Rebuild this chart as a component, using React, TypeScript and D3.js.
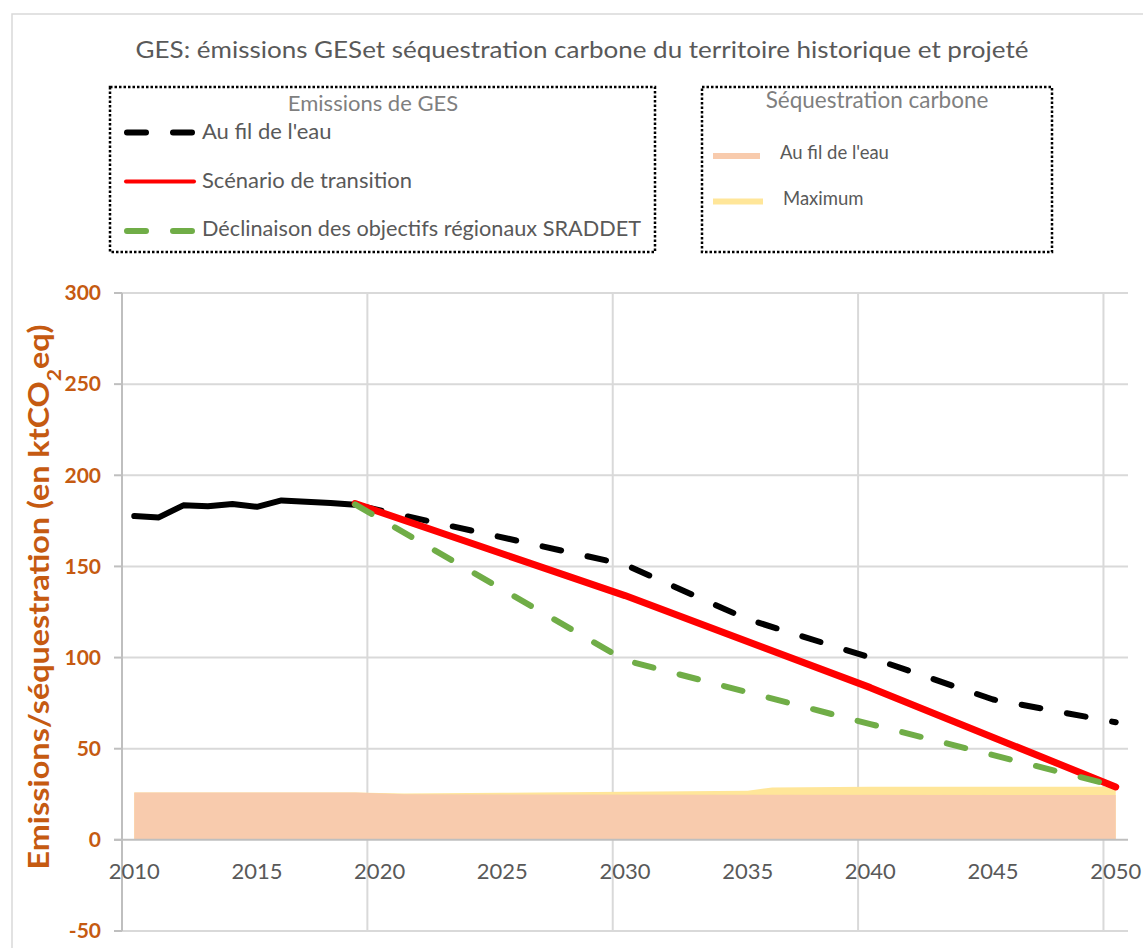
import React from 'react';
import * as d3 from 'd3';

// GES emissions (ktCO2eq)
const histYears = [2010, 2011, 2012, 2013, 2014, 2015, 2016, 2017, 2018, 2019];
const histValues = [177.6, 176.9, 183.5, 183, 184.2, 182.7, 186.2, 185.5, 184.8, 183.8];

const bauYears = [2019, 2030, 2035, 2040, 2045, 2050];
const bauValues = [183.8, 151, 121, 100, 77, 64.5];

const transYears = [2019, 2030, 2040, 2050];
const transValues = [184.5, 134, 83.5, 29];

const sraddetYears = [2019, 2030, 2040, 2050];
const sraddetValues = [184, 98.5, 63.5, 29.5];

// sequestration carbone
const seqBauYears = [2010, 2019, 2021, 2050];
const seqBauValues = [26, 26, 25, 24.6];

const seqMaxYears = [2010, 2019, 2021, 2025, 2030, 2035, 2036, 2040, 2050];
const seqMaxValues = [26, 26, 25.4, 25.8, 26.4, 27, 28.7, 29.2, 29.2];

const xTicks = [2010, 2015, 2020, 2025, 2030, 2035, 2040, 2045, 2050];
const xGrid = [2019.5, 2029.5, 2039.5, 2049.5];
const yTicks = [-50, 0, 50, 100, 150, 200, 250, 300];

const font = 'Lato, "Open Sans", sans-serif';

const zip = (xs: number[], ys: number[]) => xs.map((x, i) => [x, ys[i]] as [number, number]);

export default function App() {
  // plot area
  const x = d3.scaleLinear().domain([2009.5, 2050.5]).range([122, 1128]);
  const y = d3.scaleLinear().domain([-50, 300]).range([931, 293]);

  const line = d3.line<[number, number]>()
    .x(d => x(d[0]))
    .y(d => y(d[1]));

  const area = d3.area<[number, number]>()
    .x(d => x(d[0]))
    .y0(y(0))
    .y1(d => y(d[1]));

  const dash = '19 27';

  return (
    <svg width={1143} height={948} style={{ position: 'absolute', left: 0, top: 0, background: '#fff' }}>
      <rect x={12} y={14} width={1140} height={940} fill="#fff" stroke="#d9d9d9" strokeWidth={1.5} />

      {/* title */}
      <text x={582} y={58} textAnchor="middle" fontFamily={font} fontSize={24} fill="#595959"
        textLength={893} lengthAdjust="spacingAndGlyphs">
        GES: émissions GESet séquestration carbone du territoire historique et projeté
      </text>

      {/* legend: emissions */}
      <rect x={110} y={87} width={545} height={165} fill="none" stroke="#000" strokeWidth={2.5} strokeDasharray="2.5 2" />
      <text x={373} y={111} textAnchor="middle" fontFamily={font} fontSize={22} fill="#7f7f7f">Emissions de GES</text>
      <line x1={127} x2={193} y1={132.5} y2={132.5} stroke="#000" strokeWidth={6} strokeLinecap="round" strokeDasharray={dash} />
      <text x={202} y={139} fontFamily={font} fontSize={22} fill="#595959">Au fil de l'eau</text>
      <line x1={126} x2={194} y1={181.5} y2={181.5} stroke="#ff0000" strokeWidth={4} strokeLinecap="round" />
      <text x={202} y={188} fontFamily={font} fontSize={22} fill="#595959">Scénario de transition</text>
      <line x1={127} x2={193} y1={231} y2={231} stroke="#70ad47" strokeWidth={6} strokeLinecap="round" strokeDasharray={dash} />
      <text x={202} y={236} fontFamily={font} fontSize={22} fill="#595959" textLength={439} lengthAdjust="spacingAndGlyphs">Déclinaison des objectifs régionaux SRADDET</text>

      {/* legend: sequestration */}
      <rect x={702} y={87} width={350} height={165} fill="none" stroke="#000" strokeWidth={2.5} strokeDasharray="2.5 2" />
      <text x={877} y={107.5} textAnchor="middle" fontFamily={font} fontSize={22.5} fill="#7f7f7f">Séquestration carbone</text>
      <line x1={713} x2={760} y1={156} y2={156} stroke="#f8cbad" strokeWidth={6} />
      <text x={780} y={159} fontFamily={font} fontSize={18.5} fill="#595959">Au fil de l'eau</text>
      <line x1={713} x2={763} y1={201.5} y2={201.5} stroke="#ffe699" strokeWidth={6} />
      <text x={783} y={205} fontFamily={font} fontSize={18.5} fill="#595959">Maximum</text>

      {/* gridlines */}
      {yTicks.filter(v => v !== 0).map(v => (
        <line key={'gy' + v} x1={122} x2={1128} y1={y(v)} y2={y(v)} stroke="#d9d9d9" strokeWidth={2} />
      ))}
      {xGrid.map(v => (
        <line key={'gx' + v} x1={x(v)} x2={x(v)} y1={y(300)} y2={y(-50)} stroke="#d9d9d9" strokeWidth={2} />
      ))}

      {/* sequestration areas */}
      <path d={area(zip(seqMaxYears, seqMaxValues)) || ''} fill="#ffe699" />
      <path d={area(zip(seqBauYears, seqBauValues)) || ''} fill="#f8cbad" />

      {/* axes */}
      <line x1={122} x2={122} y1={y(300)} y2={y(-50)} stroke="#bfbfbf" strokeWidth={2} />
      {yTicks.map(v => (
        <line key={'ty' + v} x1={114} x2={122} y1={y(v)} y2={y(v)} stroke="#bfbfbf" strokeWidth={2} />
      ))}
      <line x1={114} x2={1128} y1={y(0)} y2={y(0)} stroke="#bfbfbf" strokeWidth={2} />

      {yTicks.map(v => (
        <text key={'ly' + v} x={101} y={y(v)} dy="0.35em" textAnchor="end" fontFamily={font} fontWeight="bold" fontSize={21} fill="#c55a11">{v}</text>
      ))}
      {xTicks.map(v => (
        <text key={'lx' + v} x={x(v)} y={879} textAnchor="middle" fontFamily={font} fontSize={22} fill="#595959">{v}</text>
      ))}

      <text transform="translate(49,597) rotate(-90)" textAnchor="middle" fontFamily={font} fontWeight="bold" fontSize={29} fill="#c55a11"
        textLength={545} lengthAdjust="spacingAndGlyphs">
        Emissions/séquestration (en ktCO<tspan baselineShift="sub" fontSize={19}>2</tspan>eq)
      </text>

      {/* emission lines */}
      <path d={line(zip(histYears, histValues)) || ''} fill="none" stroke="#000" strokeWidth={6} strokeLinejoin="round" strokeLinecap="round" />
      <path d={line(zip(bauYears, bauValues)) || ''} fill="none" stroke="#000" strokeWidth={6} strokeLinejoin="round" strokeLinecap="round" strokeDasharray={dash} strokeDashoffset={-8} />
      <path d={line(zip(transYears, transValues)) || ''} fill="none" stroke="#ff0000" strokeWidth={7} strokeLinejoin="round" strokeLinecap="round" />
      <path d={line(zip(sraddetYears, sraddetValues)) || ''} fill="none" stroke="#70ad47" strokeWidth={6} strokeLinejoin="round" strokeLinecap="round" strokeDasharray={dash} />
    </svg>
  );
}
